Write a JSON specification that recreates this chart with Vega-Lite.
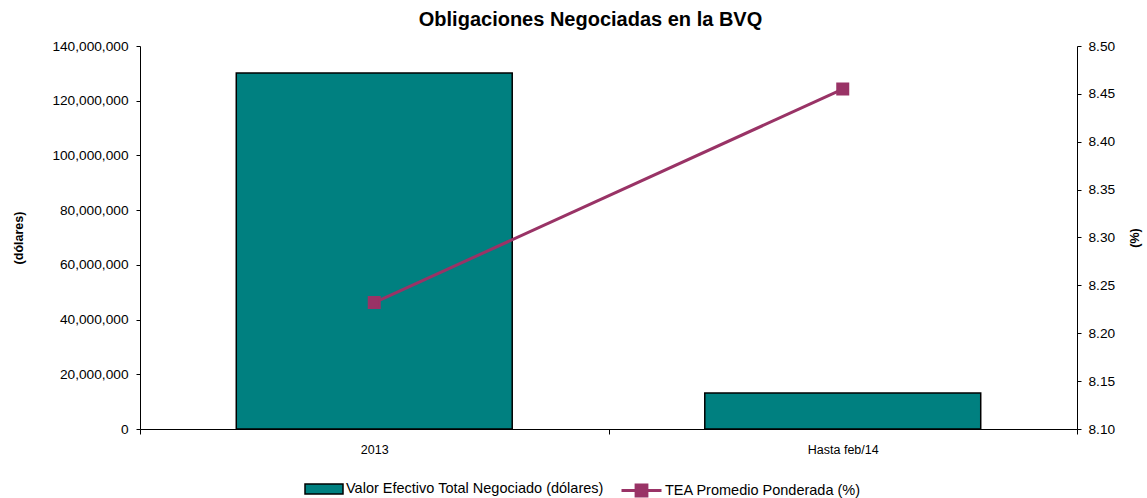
{
  "$schema": "https://vega.github.io/schema/vega-lite/v6.json",
  "width": 937,
  "height": 383,
  "autosize": {"type": "none"},
  "padding": {"left": 140, "top": 46, "right": 70, "bottom": 69},
  "background": "white",
  "title": {
    "text": "Obligaciones Negociadas en la BVQ",
    "fontSize": 20,
    "fontWeight": "bold",
    "font": "Liberation Sans",
    "color": "black",
    "anchor": "middle",
    "dx": -18,
    "offset": 9
  },
  "data": {
    "values": [
      {"periodo": "2013", "valor": 130100000, "tea": 8.232},
      {"periodo": "Hasta feb/14", "valor": 13200000, "tea": 8.455}
    ]
  },
  "encoding": {
    "x": {
      "field": "periodo",
      "type": "nominal",
      "sort": null,
      "scale": {"paddingInner": 0, "paddingOuter": 0},
      "axis": {
        "title": null,
        "labelAngle": 0,
        "tickBand": "extent",
        "tickSize": 5,
        "labelPadding": 9,
        "labelFontSize": 12.5,
        "domainColor": "black",
        "tickColor": "black",
        "labelColor": "black"
      }
    }
  },
  "layer": [
    {
      "mark": {"type": "bar", "stroke": "black", "strokeWidth": 1.5, "width": {"band": 0.589}},
      "encoding": {
        "y": {
          "field": "valor",
          "type": "quantitative",
          "scale": {"domain": [0, 140000000], "nice": false},
          "axis": {
            "title": "(dólares)",
            "values": [0, 20000000, 40000000, 60000000, 80000000, 100000000, 120000000, 140000000],
            "format": ",.0f",
            "grid": false,
            "tickSize": 4,
            "labelPadding": 8,
            "titlePadding": 26,
            "titleFontSize": 12.5,
            "titleFontWeight": "bold",
            "labelFontSize": 13.7
          }
        },
        "fill": {
          "datum": "Valor Efectivo Total Negociado (dólares)",
          "scale": {"range": ["#008080"]},
          "legend": {
            "title": null,
            "orient": "none",
            "legendX": 164,
            "legendY": 423,
            "direction": "horizontal",
            "symbolType": "M-1,-0.26H1V0.26H-1Z",
            "symbolSize": 1444,
            "symbolStrokeColor": "black",
            "symbolStrokeWidth": 1.5,
            "symbolOpacity": 1,
            "labelFontSize": 14.5,
            "labelOffset": 2,
            "labelLimit": 400
          }
        }
      }
    },
    {
      "mark": {"type": "line", "strokeWidth": 3, "point": {"shape": "square", "size": 121, "filled": true, "color": "#993366"}},
      "encoding": {
        "y": {
          "field": "tea",
          "type": "quantitative",
          "scale": {"domain": [8.1, 8.5], "nice": false, "zero": false},
          "axis": {
            "title": "(%)",
            "orient": "right",
            "values": [8.1, 8.15, 8.2, 8.25, 8.3, 8.35, 8.4, 8.45, 8.5],
            "format": ".2f",
            "grid": false,
            "tickSize": 4,
            "labelPadding": 7,
            "titlePadding": 27,
            "titleAngle": 270,
            "titleFontSize": 12.5,
            "titleFontWeight": "bold",
            "labelFontSize": 13.7
          }
        },
        "stroke": {
          "datum": "TEA Promedio Ponderada (%)",
          "scale": {"range": ["#993366"]},
          "legend": {
            "title": null,
            "orient": "none",
            "legendX": 480,
            "legendY": 423,
            "direction": "horizontal",
            "symbolType": "M-1,0H1M-0.27,-0.27H0.27V0.27H-0.27Z",
            "symbolSize": 1600,
            "symbolFillColor": "#993366",
            "symbolStrokeColor": "#993366",
            "symbolStrokeWidth": 3,
            "symbolOpacity": 1,
            "labelFontSize": 14.5,
            "labelOffset": 2,
            "labelLimit": 400
          }
        }
      }
    }
  ],
  "resolve": {"scale": {"y": "independent"}},
  "config": {
    "font": "Liberation Sans",
    "view": {"stroke": null},
    "axis": {
      "domainColor": "black",
      "tickColor": "black",
      "labelColor": "black",
      "titleColor": "black",
      "labelFont": "Liberation Sans",
      "titleFont": "Liberation Sans"
    },
    "legend": {
      "labelFont": "Liberation Sans",
      "labelColor": "black"
    }
  }
}
